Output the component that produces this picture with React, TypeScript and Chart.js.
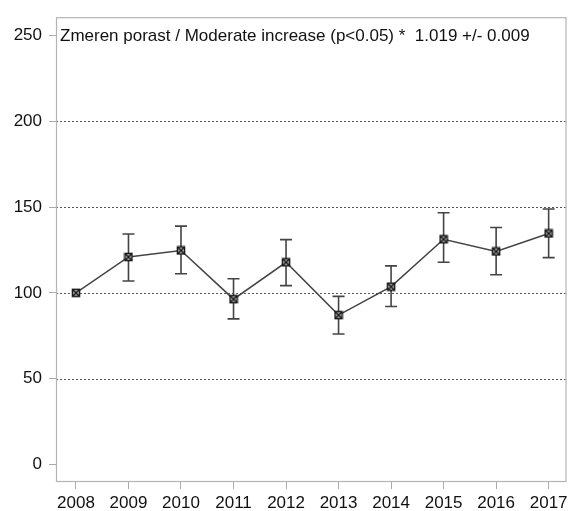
import React, { useEffect, useRef } from 'react';
import { Chart, registerables } from 'chart.js';

Chart.register(...registerables);

const years = [2008, 2009, 2010, 2011, 2012, 2013, 2014, 2015, 2016, 2017];
const values = [100, 120.9, 124.7, 96.3, 117.8, 87, 103.6, 131.2, 124.1, 134.6];
const lower = [null, 106.9, 111.1, 84.8, 104.2, 76, 92, 117.8, 110.5, 120.5];
const upper = [null, 134.3, 138.9, 108.2, 131, 97.9, 115.7, 146.7, 138.1, 148.9];
const yTicks = [0, 50, 100, 150, 200, 250];
const gridValues = [50, 100, 150, 200];
const titleText = 'Zmeren porast / Moderate increase (p<0.05) *  1.019 +/- 0.009';

const FONT_FAMILY = '"Liberation Sans", Arial, sans-serif';

function makeMarker(): HTMLCanvasElement {
  const c = document.createElement('canvas');
  c.width = 10;
  c.height = 10;
  const g = c.getContext('2d')!;
  g.fillStyle = '#cfcfcf';
  g.fillRect(1, 1, 8, 8);
  g.strokeStyle = '#1a1a1a';
  g.lineWidth = 1.6;
  g.strokeRect(1.5, 1.5, 7, 7);
  g.beginPath();
  g.moveTo(2, 2);
  g.lineTo(8, 8);
  g.moveTo(8, 2);
  g.lineTo(2, 8);
  g.stroke();
  return c;
}

const framePlugin = {
  id: 'framePlugin',
  beforeDatasetsDraw(chart: any) {
    const { ctx, chartArea: a, scales } = chart;
    const x = scales.x;
    const y = scales.y;
    ctx.save();
    // dotted grid lines
    ctx.strokeStyle = '#555';
    ctx.lineWidth = 1;
    ctx.setLineDash([2, 2]);
    gridValues.forEach((v) => {
      const py = Math.round(y.getPixelForValue(v)) + 0.5;
      ctx.beginPath();
      ctx.moveTo(a.left, py);
      ctx.lineTo(a.right, py);
      ctx.stroke();
    });
    ctx.setLineDash([]);
    // frame
    ctx.strokeStyle = '#b4b4b4';
    ctx.lineWidth = 1.2;
    ctx.strokeRect(a.left + 0.5, a.top + 0.5, a.right - a.left - 1, a.bottom - a.top - 1);
    // error bars
    ctx.strokeStyle = '#444';
    ctx.lineWidth = 1.6;
    years.forEach((yr, i) => {
      const lo = lower[i];
      const hi = upper[i];
      if (lo == null || hi == null) return;
      const px = x.getPixelForValue(yr);
      const pLo = y.getPixelForValue(lo);
      const pHi = y.getPixelForValue(hi);
      ctx.beginPath();
      ctx.moveTo(px, pLo);
      ctx.lineTo(px, pHi);
      ctx.moveTo(px - 6, pLo);
      ctx.lineTo(px + 6, pLo);
      ctx.moveTo(px - 6, pHi);
      ctx.lineTo(px + 6, pHi);
      ctx.stroke();
    });
    // title
    ctx.fillStyle = '#111';
    ctx.font = `17px ${FONT_FAMILY}`;
    ctx.textBaseline = 'middle';
    ctx.textAlign = 'left';
    ctx.fillText(titleText, a.left + 4, y.getPixelForValue(250) + 1);
    ctx.restore();
  },
};

export default function App() {
  const ref = useRef<HTMLCanvasElement>(null);

  useEffect(() => {
    if (!ref.current) return;
    const marker = makeMarker();
    const chart = new Chart(ref.current, {
      type: 'line',
      data: {
        datasets: [
          {
            data: years.map((yr, i) => ({ x: yr, y: values[i] })),
            borderColor: '#444',
            borderWidth: 1.5,
            pointStyle: marker as any,
            pointRadius: 5,
            fill: false,
            tension: 0,
          },
        ],
      },
      options: {
        animation: false,
        responsive: false,
        maintainAspectRatio: false,
        layout: { padding: { top: 11, right: 2, left: 0, bottom: 0 } },
        plugins: {
          legend: { display: false },
          tooltip: { enabled: false },
          title: { display: false },
        },
        scales: {
          x: {
            type: 'linear',
            min: 2007.62,
            max: 2017.34,
            afterBuildTicks: (s: any) => {
              s.ticks = years.map((v) => ({ value: v }));
            },
            afterFit: (s: any) => {
              s.height = 29;
            },
            ticks: {
              autoSkip: false,
              maxRotation: 0,
              padding: 4,
              color: '#111',
              font: { family: FONT_FAMILY, size: 17 },
              callback: (v: any) => String(v),
            },
            grid: {
              drawOnChartArea: false,
              tickLength: 7,
              tickColor: '#aaa',
              color: '#aaa',
            },
            border: { display: false },
          },
          y: {
            type: 'linear',
            min: -10.3,
            max: 260.7,
            afterBuildTicks: (s: any) => {
              s.ticks = yTicks.map((v) => ({ value: v }));
            },
            afterFit: (s: any) => {
              s.width = 56;
            },
            ticks: {
              padding: 7,
              color: '#111',
              font: { family: FONT_FAMILY, size: 17 },
              callback: (v: any) => String(v),
            },
            grid: {
              drawOnChartArea: false,
              tickLength: 7,
              tickColor: '#aaa',
              color: '#aaa',
            },
            border: { display: false },
          },
        },
      },
      plugins: [framePlugin],
    });
    return () => chart.destroy();
  }, []);

  return (
    <div style={{ position: 'fixed', left: 0, top: 0, width: 573, height: 511, background: '#fff' }}>
      <canvas ref={ref} width={573} height={511} style={{ display: 'block' }} />
    </div>
  );
}
